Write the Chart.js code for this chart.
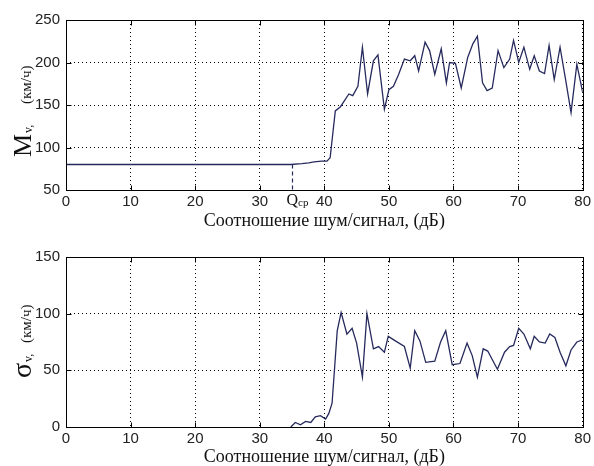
<!DOCTYPE html>
<html><head><meta charset="utf-8">
<script src="https://cdn.jsdelivr.net/npm/chart.js@4"></script>
<style>
html,body{margin:0;padding:0;background:#fff;}
.w{position:absolute;left:0;width:594px;height:233px;}
</style>
</head><body>
<div class="w" style="top:0"><canvas id="c1" width="594" height="233"></canvas></div>
<div class="w" style="top:233px"><canvas id="c2" width="594" height="233"></canvas></div>
<script>
// ---- data ----
const X_TICKS = [0, 10, 20, 30, 40, 50, 60, 70, 80];
const M_Y_TICKS = [50, 100, 150, 200, 250];
const S_Y_TICKS = [0, 50, 100, 150];

const M_X = [0, 34.8, 36.5, 37.6, 38.4, 39.6, 40.4, 40.9, 41.7, 42.5, 43.8, 44.4, 45.2, 45.9, 46.7, 47.6, 48.3, 49.3, 50.0, 50.7, 51.5, 52.4, 53.3, 54.0, 54.6, 55.6, 56.3, 57.1, 58.1, 58.9, 59.4, 60.3, 61.2, 62.2, 63.0, 63.7, 64.5, 65.2, 66.0, 66.9, 67.8, 68.7, 69.3, 70.1, 70.9, 71.8, 72.5, 73.3, 74.1, 74.8, 75.6, 76.5, 77.4, 78.2, 79.1, 80];
const M_V = [80, 80, 81, 82, 83, 84, 84, 88, 143, 148, 163, 161, 172, 218, 163, 202, 209, 145, 168, 172, 186, 204, 202, 208, 190, 224, 214, 186, 216, 176, 200, 199, 170, 206, 222, 231, 176, 167, 170, 214, 194, 204, 226, 200, 218, 192, 208, 190, 187, 220, 180, 218, 178, 141, 198, 165];

const S_X = [34.8, 35.5, 36.3, 37.1, 37.9, 38.6, 39.4, 40.2, 40.7, 41.2, 41.6, 42.0, 42.6, 43.5, 44.3, 45.0, 45.9, 46.6, 47.6, 48.4, 49.3, 49.9, 51.0, 52.4, 53.3, 54.0, 54.8, 55.7, 57.1, 58.0, 58.8, 59.8, 61.0, 62.1, 62.9, 63.7, 64.6, 65.3, 66.8, 67.9, 68.7, 69.3, 70.1, 70.9, 71.9, 72.5, 73.3, 74.2, 74.9, 75.7, 76.5, 77.4, 78.2, 79.1, 80];
const S_V = [0, 4, 2, 5, 4, 9, 10, 7, 12, 21, 53, 85, 101, 82, 87, 74, 44, 100, 69, 71, 66, 80, 76, 71, 52, 85, 76, 57, 58, 75, 85, 55, 56, 74, 63, 44, 69, 67, 51, 66, 71, 72, 87, 82, 69, 80, 75, 74, 82, 79, 66, 54, 68, 75, 77];

const Q_CP = 35;
const Q_LEVEL = 80;
const X_TITLE = 'Соотношение шум/сигнал, (дБ)';
const M_LABEL = ['M', 'v,', '(км/ч)'];
const S_LABEL = ['σ', 'v,', '(км/ч)'];

// ---- style ----
const LINE_COLOR = '#262a5c';
const SERIF = '"Liberation Serif", "Times New Roman", serif';
const SANS = '"Liberation Sans", Arial, sans-serif';

const framePlugin = {
  id: 'frame',
  afterDraw(chart) {
    const {ctx, chartArea: a, scales} = chart;
    ctx.save();
    ctx.strokeStyle = '#000';
    ctx.lineWidth = 1;
    ctx.setLineDash([]);
    const L = Math.round(a.left) + 0.5, R = Math.round(a.right) + 0.5;
    const T = Math.round(a.top) + 0.5, B = Math.round(a.bottom) + 0.5;
    ctx.strokeRect(L, T, R - L, B - T);
    ctx.beginPath();
    scales.x.ticks.forEach(t => {
      const px = Math.round(scales.x.getPixelForValue(t.value)) + 0.5;
      ctx.moveTo(px, B); ctx.lineTo(px, B - 5);
      ctx.moveTo(px, T); ctx.lineTo(px, T + 5);
    });
    scales.y.ticks.forEach(t => {
      const py = Math.round(scales.y.getPixelForValue(t.value)) + 0.5;
      ctx.moveTo(L, py); ctx.lineTo(L + 5, py);
      ctx.moveTo(R, py); ctx.lineTo(R - 5, py);
    });
    ctx.stroke();
    ctx.restore();
  }
};

const ylabPlugin = {
  id: 'ylab',
  afterDraw(chart, args, o) {
    const ctx = chart.ctx;
    ctx.save();
    ctx.fillStyle = '#111';
    ctx.textBaseline = 'alphabetic';
    ctx.textAlign = 'left';
    ctx.translate(o.baseX, o.startY);
    ctx.rotate(-Math.PI / 2);
    ctx.font = o.mainSize + 'px ' + SERIF;
    ctx.fillText(o.text[0], 0, 0);
    const w = ctx.measureText(o.text[0]).width;
    ctx.font = '12px ' + SERIF;
    ctx.fillText(o.text[1], w + 1, 1);
    ctx.font = '15px ' + SERIF;
    ctx.fillText(o.text[2], o.unitStart, 0);
    ctx.restore();
  }
};

const qPlugin = {
  id: 'qmark',
  afterDatasetsDraw(chart) {
    const {ctx, scales, chartArea: a} = chart;
    const px = Math.round(scales.x.getPixelForValue(Q_CP)) + 0.5;
    const py = scales.y.getPixelForValue(Q_LEVEL);
    ctx.save();
    ctx.strokeStyle = LINE_COLOR;
    ctx.lineWidth = 1.2;
    ctx.setLineDash([4, 3]);
    ctx.beginPath();
    ctx.moveTo(px, py); ctx.lineTo(px, a.bottom);
    ctx.stroke();
    ctx.setLineDash([]);
    ctx.fillStyle = '#111';
    ctx.textBaseline = 'alphabetic';
    ctx.font = '16px ' + SERIF;
    ctx.fillText('Q', px - 6, a.bottom + 15);
    const w = ctx.measureText('Q').width;
    ctx.font = '11px ' + SERIF;
    ctx.fillText('ср', px - 6 + w, a.bottom + 16);
    ctx.restore();
  }
};

function makeChart(id, xs, vs, yTicks, yMin, yMax, padTop, xHeight, titlePad, ylab, extra) {
  const plugins = [framePlugin, ylabPlugin];
  if (extra) plugins.push(extra);
  return new Chart(document.getElementById(id), {
    type: 'line',
    data: {
      datasets: [{
        data: xs.map((x, i) => ({x: x, y: vs[i]})),
        borderColor: LINE_COLOR,
        borderWidth: 1.3,
        pointRadius: 0,
        tension: 0,
        fill: false
      }]
    },
    options: {
      responsive: false,
      animation: false,
      devicePixelRatio: 1,
      layout: {padding: {left: 0, right: 9, top: padTop, bottom: 0}},
      plugins: {legend: {display: false}, tooltip: {enabled: false}, ylab: ylab},
      scales: {
        x: {
          type: 'linear', min: 0, max: 80,
          afterBuildTicks: s => { s.ticks = X_TICKS.map(v => ({value: v})); },
          afterFit: s => { s.height = xHeight; },
          grid: {color: '#000', lineWidth: 1, drawTicks: false},
          border: {display: false, dash: [1, 3]},
          ticks: {font: {family: SANS, size: 15}, color: '#222', padding: 3, maxRotation: 0, autoSkip: false},
          title: {display: true, text: X_TITLE, color: '#111', font: {family: SERIF, size: 18}, padding: {top: 0, bottom: titlePad}}
        },
        y: {
          type: 'linear', min: yMin, max: yMax,
          afterBuildTicks: s => { s.ticks = yTicks.map(v => ({value: v})); },
          afterFit: s => { s.width = 66; },
          grid: {color: '#000', lineWidth: 1, drawTicks: false},
          border: {display: false, dash: [1, 3]},
          ticks: {font: {family: SANS, size: 15}, color: '#222', padding: 6}
        }
      }
    },
    plugins: plugins
  });
}

makeChart('c1', M_X, M_V, M_Y_TICKS, 50, 250, 20, 43, 1,
  {text: M_LABEL, baseX: 31, startY: 157, mainSize: 26, unitStart: 53}, qPlugin);
makeChart('c2', S_X, S_V, S_Y_TICKS, 0, 150, 24, 39, -2,
  {text: S_LABEL, baseX: 31, startY: 145, mainSize: 28, unitStart: 35}, null);
</script>
</body></html>
